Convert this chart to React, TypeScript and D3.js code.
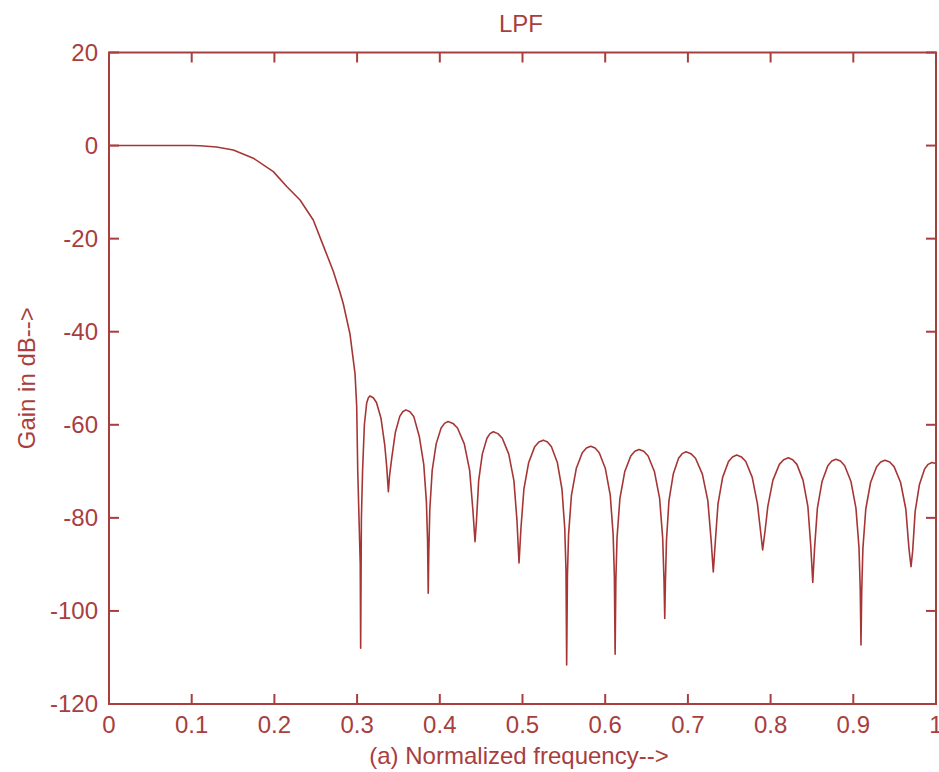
import React from "react";
import * as d3 from "d3";

const title = "LPF";
const xLabel = "(a) Normalized frequency-->";
const yLabel = "Gain in dB-->";

const xTicks = [0, 0.1, 0.2, 0.3, 0.4, 0.5, 0.6, 0.7, 0.8, 0.9, 1];
const yTicks = [20, 0, -20, -40, -60, -80, -100, -120];

// [normalized frequency, gain in dB]
const passband: [number, number][] = [
  [0, 0], [0.05, 0], [0.1, 0], [0.11, -0.05], [0.13, -0.3], [0.1503, -0.95], [0.1745, -2.7],
  [0.1987, -5.6], [0.2149, -8.8], [0.231, -11.7], [0.247, -16.0], [0.2591, -21.5], [0.2712, -27.0],
  [0.2793, -31.5], [0.2833, -34.0], [0.2914, -40.5], [0.2975, -49.0], [0.2995, -56.0], [0.3008, -70.0],
  [0.3038, -90.0], [0.3043, -108.0],
];

const stopband: [number, number][] = [
  [0.3052, -80], [0.3066, -70], [0.3088, -60], [0.3116, -55.3], [0.3136, -54.2], [0.3156, -53.8],
  [0.3196, -54.2], [0.3234, -55.2], [0.3289, -58.6], [0.3334, -64.3], [0.3358, -69.0], [0.3378, -74.4],

  [0.3392, -71], [0.342, -67], [0.3463, -61.6], [0.3516, -58.2], [0.3552, -57.2], [0.359, -56.8],
  [0.3639, -57.2], [0.3685, -58.2], [0.3752, -62.5], [0.3806, -68.5], [0.3838, -76.5], [0.3852, -84.8], [0.386, -96.2],

  [0.3867, -87.3], [0.3879, -78.3], [0.3908, -69.8], [0.3956, -64.1], [0.4016, -60.7], [0.4057, -59.7], [0.41, -59.3],
  [0.4159, -59.7], [0.4214, -60.7], [0.4296, -64.1], [0.4361, -69.8], [0.44, -78.3], [0.4426, -85.1],

  [0.4444, -80.5], [0.447, -72], [0.4514, -66.3], [0.457, -62.9], [0.4607, -61.9], [0.4647, -61.5],
  [0.4703, -61.9], [0.4756, -62.9], [0.4834, -66.3], [0.4896, -72], [0.4933, -80.5], [0.4958, -89.7],

  [0.4981, -82.3], [0.5017, -73.8], [0.5075, -68.1], [0.5148, -64.7], [0.5198, -63.7], [0.5251, -63.3],
  [0.5302, -63.7], [0.535, -64.7], [0.5421, -68.1], [0.5477, -73.8], [0.5511, -82.3], [0.5526, -91.3], [0.5534, -111.6],

  [0.5543, -92.6], [0.5557, -83.6], [0.5592, -75.1], [0.565, -69.4], [0.5723, -66.0], [0.5773, -65.0], [0.5825, -64.6],
  [0.5878, -65.0], [0.5928, -66.0], [0.6002, -69.4], [0.6061, -75.1], [0.6096, -83.6], [0.6111, -92.6], [0.612, -109.3],

  [0.6129, -93.3], [0.6143, -84.3], [0.6178, -75.8], [0.6236, -70.1], [0.6309, -66.7], [0.6358, -65.7], [0.641, -65.3],
  [0.6466, -65.7], [0.6519, -66.7], [0.6596, -70.1], [0.6658, -75.8], [0.6695, -84.3], [0.6711, -93.3], [0.672, -101.6],

  [0.6728, -93.8], [0.6741, -84.8], [0.6771, -76.3], [0.6823, -70.6], [0.6887, -67.2], [0.6931, -66.2], [0.6977, -65.8],
  [0.7036, -66.2], [0.7092, -67.2], [0.7175, -70.6], [0.7241, -76.3], [0.7281, -84.8], [0.7307, -91.6],

  [0.733, -85.5], [0.7364, -77], [0.742, -71.3], [0.7491, -67.9], [0.7539, -66.9], [0.759, -66.5],
  [0.7647, -66.9], [0.77, -67.9], [0.7778, -71.3], [0.7841, -77], [0.7873, -82], [0.7904, -86.9],

  [0.7935, -82.5], [0.7966, -77.6], [0.8028, -71.9], [0.8106, -68.5], [0.8158, -67.5], [0.8214, -67.1],
  [0.8267, -67.5], [0.8318, -68.5], [0.8392, -71.9], [0.8451, -77.6], [0.8486, -86.1], [0.851, -93.9],

  [0.8532, -86.4], [0.8566, -77.9], [0.8622, -72.2], [0.8692, -68.8], [0.874, -67.8], [0.879, -67.4],
  [0.8845, -67.8], [0.8896, -68.8], [0.8972, -72.2], [0.9032, -77.9], [0.9069, -86.4], [0.9084, -95.4], [0.9093, -107.3],

  [0.9102, -95.6], [0.9116, -86.6], [0.9151, -78.1], [0.9209, -72.4], [0.9282, -69.0], [0.9331, -68.0], [0.9383, -67.6],
  [0.944, -68.0], [0.9493, -69.0], [0.9572, -72.4], [0.9635, -78.1], [0.9673, -86.6], [0.9698, -90.5],

  [0.9718, -87.1], [0.9748, -78.6], [0.9799, -72.9], [0.9862, -69.5], [0.9905, -68.5], [0.995, -68.1], [1.0, -68.3],
];

const W = 939;
const H = 772;
const left = 109;
const right = 936;
const top = 52.5;
const bottom = 704;
const COLOR = "#a83e3e";
const LINE = "#a63636";
const FONT = "'Liberation Sans', Arial, sans-serif";

export default function App() {
  const x = d3.scaleLinear().domain([0, 1]).range([left, right]);
  const y = d3.scaleLinear().domain([-120, 20]).range([bottom, top]);
  const pts = [...passband, ...stopband];
  const line = d3
    .line<[number, number]>()
    .x((d) => x(d[0]))
    .y((d) => y(d[1]));
  const tl = 10;

  return (
    <svg
      width={W}
      height={H}
      style={{ position: "absolute", left: 0, top: 0, background: "#fff" }}
      fontFamily={FONT}
    >
      <rect x={0} y={0} width={W} height={H} fill="#fff" />
      <path d={line(pts) || ""} fill="none" stroke={LINE} strokeWidth={1.6} strokeLinejoin="round" />
      <rect
        x={left}
        y={top}
        width={right - left}
        height={bottom - top}
        fill="none"
        stroke={COLOR}
        strokeWidth={2}
      />
      {xTicks.map((t) => (
        <g key={"x" + t}>
          <line x1={x(t)} x2={x(t)} y1={bottom} y2={bottom - tl} stroke={COLOR} strokeWidth={2} />
          <line x1={x(t)} x2={x(t)} y1={top} y2={top + tl} stroke={COLOR} strokeWidth={2} />
          <text x={x(t)} y={733} textAnchor="middle" fontSize={24} fill={COLOR}>
            {String(t)}
          </text>
        </g>
      ))}
      {yTicks.map((t) => (
        <g key={"y" + t}>
          <line x1={left} x2={left + tl} y1={y(t)} y2={y(t)} stroke={COLOR} strokeWidth={2} />
          <line x1={right} x2={right - tl} y1={y(t)} y2={y(t)} stroke={COLOR} strokeWidth={2} />
          <text x={98} y={y(t)} dy="0.35em" textAnchor="end" fontSize={24} fill={COLOR}>
            {String(t)}
          </text>
        </g>
      ))}
      <text x={521} y={31.5} textAnchor="middle" fontSize={24} fill={COLOR}>
        {title}
      </text>
      <text x={519} y={764} textAnchor="middle" fontSize={24} fill={COLOR}>
        {xLabel}
      </text>
      <text
        transform={`translate(35, ${(top + bottom) / 2}) rotate(-90)`}
        textAnchor="middle"
        fontSize={24}
        fill={COLOR}
      >
        {yLabel}
      </text>
    </svg>
  );
}
